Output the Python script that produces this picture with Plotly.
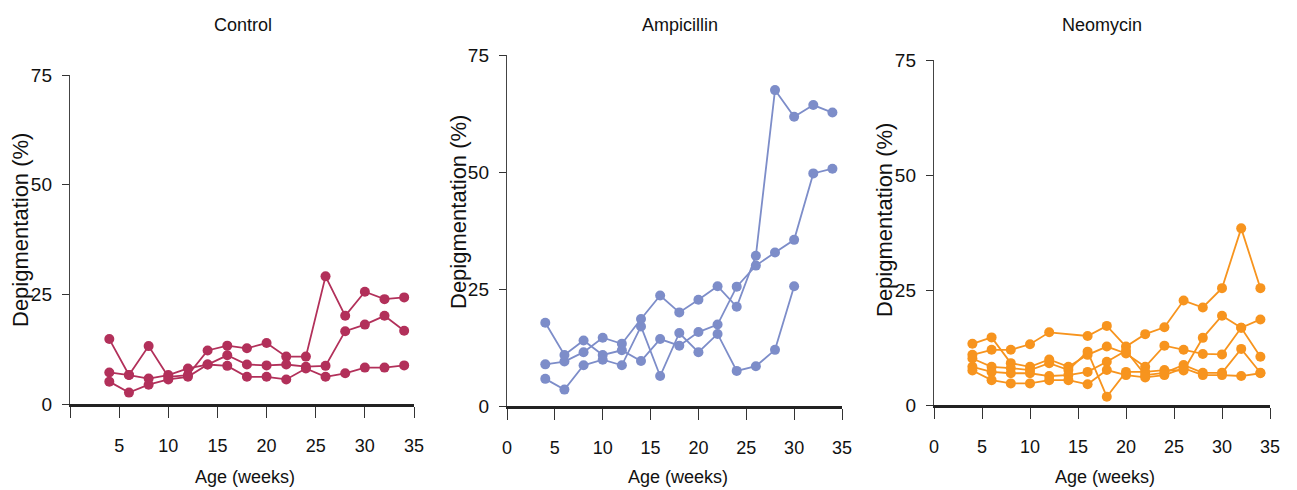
import plotly.graph_objects as go

W, H = 1297, 490

# ---------------- data ----------------
weeks_full = [4, 6, 8, 10, 12, 14, 16, 18, 20, 22, 24, 26, 28, 30, 32, 34]

control_1 = [14.8, 6.6, 13.2, 6.2, 6.6, 12.2, 13.3, 12.7, 13.9, 10.8, 10.8, 29.1, 20.1, 25.6, 23.9, 24.3]
control_2 = [7.2, 6.6, 5.8, 6.6, 8.1, 9.0, 11.1, 9.0, 8.8, 9.0, 8.5, 8.7, 16.6, 18.1, 20.1, 16.7]
control_3 = [5.1, 2.6, 4.4, 5.6, 6.2, 9.0, 8.7, 6.2, 6.2, 5.6, 8.1, 6.2, 7.0, 8.3, 8.3, 8.8]

amp_weeks_c = [4, 6, 8, 10, 12, 14, 16, 18, 20, 22, 24, 26, 28, 30]
amp_1 = [8.9, 9.5, 11.5, 14.6, 13.3, 18.6, 23.6, 20.0, 22.7, 25.6, 21.2, 32.1, 67.5, 61.8, 64.3, 62.7]
amp_2 = [17.8, 10.9, 14.0, 10.9, 11.9, 9.6, 14.3, 12.9, 15.8, 17.4, 25.5, 30.0, 32.8, 35.5, 49.7, 50.7]
amp_3 = [5.8, 3.5, 8.7, 9.9, 8.7, 17.0, 6.4, 15.6, 11.5, 15.4, 7.5, 8.5, 12.0, 25.6]

neo_weeks_1 = [4, 6, 8, 10, 12, 16, 18, 20, 22, 24, 26, 28, 30, 32, 34]
neo_1 = [10.9, 12.0, 12.0, 13.2, 15.8, 15.0, 17.2, 12.7, 15.4, 16.9, 22.7, 21.2, 25.4, 38.4, 25.4]
neo_2 = [13.3, 14.7, 9.1, 8.3, 9.9, 8.3, 10.9, 12.7, 11.2, 8.3, 12.9, 12.0, 11.1, 11.0, 16.8, 10.5]
neo_3 = [10.1, 8.3, 8.0, 7.6, 9.1, 7.6, 11.6, 1.8, 7.2, 7.2, 7.6, 7.5, 14.6, 19.4, 16.8, 18.6]
neo_4 = [8.3, 7.2, 6.9, 6.9, 6.3, 6.5, 7.2, 9.4, 11.8, 6.5, 7.0, 8.7, 7.0, 7.0, 12.2, 7.0]
neo_5 = [7.5, 5.4, 4.7, 4.7, 5.4, 5.4, 4.5, 7.6, 6.5, 6.0, 6.5, 8.0, 6.5, 6.5, 6.3, 6.9]

panel_titles = ["Control", "Ampicillin", "Neomycin"]
x_ticks = [0, 5, 10, 15, 20, 25, 30, 35]
y_ticks = [0, 25, 50, 75]

# ---------------- styling ----------------
C_CTRL = "#B2305A"
C_AMP = "#7D8DC9"
C_NEO = "#F7941E"
NARROW = "Liberation Sans Narrow, Arial Narrow, Liberation Sans, Arial"
REG = "Liberation Sans, Arial, sans-serif"

fig = go.Figure()

def add_series(x, y, color, xa, ya):
    fig.add_trace(go.Scatter(
        x=x, y=y, mode="lines+markers",
        line=dict(color=color, width=1.8),
        marker=dict(color=color, size=10),
        xaxis=xa, yaxis=ya, showlegend=False, cliponaxis=False,
    ))

for s in (control_1, control_2, control_3):
    add_series(weeks_full, s, C_CTRL, "x", "y")
add_series(weeks_full, amp_1, C_AMP, "x2", "y2")
add_series(weeks_full, amp_2, C_AMP, "x2", "y2")
add_series(amp_weeks_c, amp_3, C_AMP, "x2", "y2")
add_series(neo_weeks_1, neo_1, C_NEO, "x3", "y3")
for s in (neo_2, neo_3, neo_4, neo_5):
    add_series(weeks_full, s, C_NEO, "x3", "y3")

# panel pixel geometry: (x0, x1, ytop, ybottom)
panels = [(70, 414, 75, 404), (507, 842, 55, 406), (934, 1270, 60, 405)]
title_x = [243, 680, 1102]
ytitle_x = [20, 458, 884]
ytitle_y = [230, 212, 220]

layout = dict(
    width=W, height=H,
    margin=dict(l=0, r=0, t=0, b=0, autoexpand=False),
    paper_bgcolor="white", plot_bgcolor="white",
    showlegend=False,
    template="none",
)

annotations = []
for i, (x0, x1, yt, yb) in enumerate(panels):
    sfx = "" if i == 0 else str(i + 1)
    ticktext = [("" if (i == 0 and v == 0) else str(v)) for v in x_ticks]
    layout["xaxis" + sfx] = dict(
        domain=[x0 / W, x1 / W], range=[0, 35],
        tickvals=x_ticks, ticktext=ticktext,
        ticks="outside", ticklen=11, tickwidth=1.3, tickcolor="#333",
        showline=True, linecolor="#222", linewidth=2.5,
        showgrid=False, zeroline=False, automargin=False,
        tickfont=dict(family=NARROW, size=18, color="#111"),
        ticklabelstandoff=13,
        anchor="y" + sfx, fixedrange=True,
    )
    layout["yaxis" + sfx] = dict(
        domain=[1 - yb / H, 1 - yt / H], range=[0, 75],
        tickvals=y_ticks,
        ticks="outside", ticklen=7, tickwidth=1.3, tickcolor="#333",
        showline=True, linecolor="#444", linewidth=1.4,
        showgrid=False, zeroline=False, automargin=False,
        tickfont=dict(family=NARROW, size=19, color="#111"),
        ticklabelstandoff=6,
        anchor="x" + sfx, fixedrange=True,
    )
    cx = (x0 + x1) / 2
    annotations.append(dict(
        text=panel_titles[i], x=title_x[i] / W, y=1 - 25 / H,
        xref="paper", yref="paper", showarrow=False,
        font=dict(family=NARROW, size=18, color="#111"),
        xanchor="center", yanchor="middle",
    ))
    annotations.append(dict(
        text="Age (weeks)", x=(cx + 3) / W, y=1 - 477 / H,
        xref="paper", yref="paper", showarrow=False,
        font=dict(family=NARROW, size=18, color="#111"),
        xanchor="center", yanchor="middle",
    ))
    annotations.append(dict(
        text="Depigmentation (%)", x=ytitle_x[i] / W,
        y=1 - ytitle_y[i] / H,
        xref="paper", yref="paper", showarrow=False, textangle=-90,
        font=dict(family=REG, size=22, color="#111"),
        xanchor="center", yanchor="middle",
    ))

layout["annotations"] = annotations
fig.update_layout(**layout)
fig.write_html("out.html")
